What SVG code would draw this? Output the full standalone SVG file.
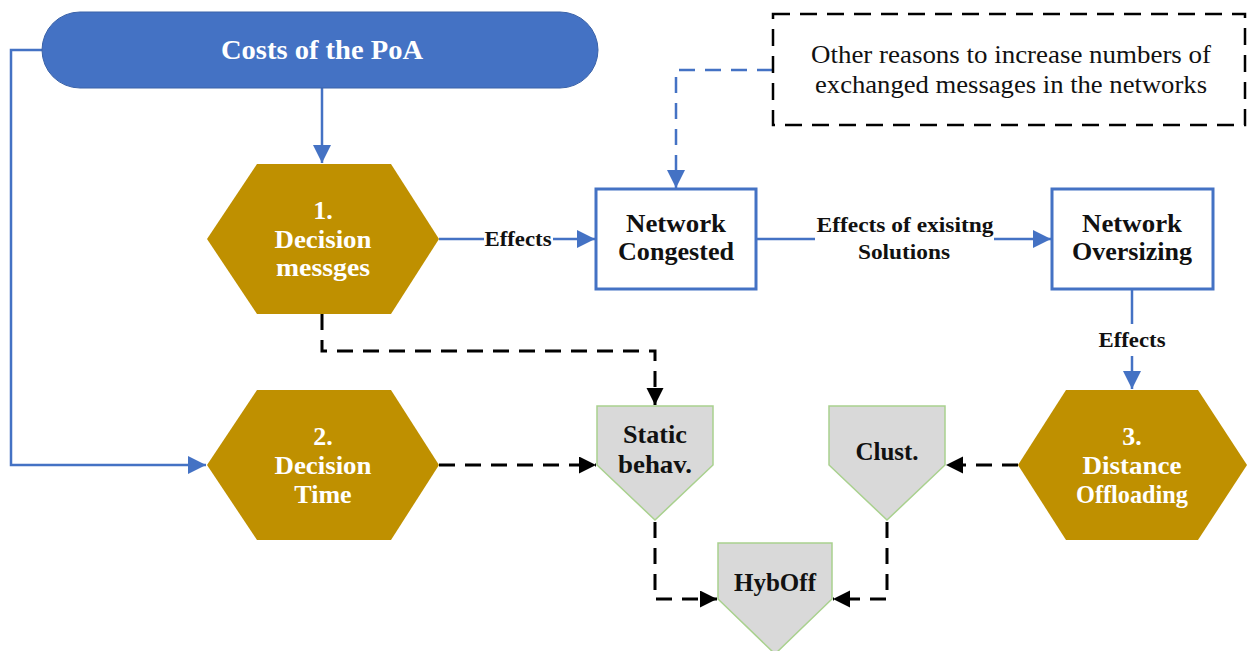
<svg xmlns="http://www.w3.org/2000/svg" width="1248" height="651" viewBox="0 0 1248 651">
  <style>
    .hex { fill: #BF9000; }
    .hexText { font-family: "Liberation Serif", serif; font-weight: bold; font-size: 26px; fill: #FFFFFF; text-anchor: middle; }
    .box { fill: #FFFFFF; stroke: #4472C4; stroke-width: 3; }
    .boxText { font-family: "Liberation Serif", serif; font-weight: bold; font-size: 25px; fill: #111111; text-anchor: middle; }
    .tag { fill: #D9D9D9; stroke: #A9D18E; stroke-width: 1.5; }
    .lbl { font-family: "Liberation Serif", serif; font-weight: bold; font-size: 21px; fill: #111111; text-anchor: middle; }
    .blue { fill: none; stroke: #4472C4; stroke-width: 2.5; }
    .blueDash { fill: none; stroke: #4472C4; stroke-width: 2.5; stroke-dasharray: 16 10; }
    .blackDash { fill: none; stroke: #000000; stroke-width: 3; stroke-dasharray: 16 10; }
  </style>
  <defs>
    <marker id="arrBlue" markerUnits="userSpaceOnUse" markerWidth="20" markerHeight="20" refX="18" refY="9" orient="auto">
      <path d="M0,0 L18,9 L0,18 Z" fill="#4472C4"/>
    </marker>
    <marker id="arrBlack" markerUnits="userSpaceOnUse" markerWidth="20" markerHeight="20" refX="17" refY="8.5" orient="auto">
      <path d="M0,0 L17,8.5 L0,17 Z" fill="#000000"/>
    </marker>
  </defs>
  <rect width="1248" height="651" fill="#FFFFFF"/>

  <!-- connectors -->
  <g id="connectors">
    <path class="blue" d="M42,50 H11 V465 H206" marker-end="url(#arrBlue)"/>
    <path class="blue" d="M322,88 V163" marker-end="url(#arrBlue)"/>
    <path class="blue" d="M439,239 H484"/>
    <path class="blue" d="M553,239 H595" marker-end="url(#arrBlue)"/>
    <path class="blue" d="M756,239 H815"/>
    <path class="blue" d="M994,239 H1051" marker-end="url(#arrBlue)"/>
    <path class="blue" d="M1132,290 V324"/>
    <path class="blue" d="M1132,356 V389" marker-end="url(#arrBlue)"/>
    <path class="blueDash" d="M773,70 H676 V188" marker-end="url(#arrBlue)"/>
    <path class="blackDash" d="M322,314 V351 H655 V405" marker-end="url(#arrBlack)"/>
    <path class="blackDash" d="M439,465 H596" marker-end="url(#arrBlack)"/>
    <path class="blackDash" d="M1018,465 H946" marker-end="url(#arrBlack)"/>
    <path class="blackDash" d="M655,522 V599 H717" marker-end="url(#arrBlack)"/>
    <path class="blackDash" d="M887,522 V599 H833" marker-end="url(#arrBlack)"/>
    <text class="lbl" x="518" y="246" textLength="67" lengthAdjust="spacingAndGlyphs">Effects</text>
    <text class="lbl" x="905" y="232" textLength="177" lengthAdjust="spacingAndGlyphs">Effects of exisitng</text>
    <text class="lbl" x="904" y="259" textLength="92" lengthAdjust="spacingAndGlyphs">Solutions</text>
    <text class="lbl" x="1132" y="347" textLength="67" lengthAdjust="spacingAndGlyphs">Effects</text>
  </g>

  <!-- start terminal -->
  <g id="costs">
    <rect x="42" y="12" width="556" height="76" rx="38" fill="#4472C4" stroke="#3A62A8" stroke-width="1"/>
    <text x="322" y="59" font-family="Liberation Serif, serif" font-weight="bold" font-size="27" fill="#FFFFFF" text-anchor="middle" textLength="202" lengthAdjust="spacingAndGlyphs">Costs of the PoA</text>
  </g>

  <g id="otherReasons">
    <rect x="773" y="14" width="472" height="111" fill="#FFFFFF" stroke="#000000" stroke-width="2.5" stroke-dasharray="17 10"/>
    <text x="1011" y="63" font-family="Liberation Serif, serif" font-size="25" fill="#111111" text-anchor="middle" textLength="400" lengthAdjust="spacingAndGlyphs">Other reasons to increase numbers of</text>
    <text x="1011" y="93" font-family="Liberation Serif, serif" font-size="25" fill="#111111" text-anchor="middle" textLength="392" lengthAdjust="spacingAndGlyphs">exchanged messages in the networks</text>
  </g>

  <g id="decisionMessages">
    <polygon class="hex" points="207,239 257,164 391,164 439,239 391,314 257,314"/>
    <text class="hexText" x="323" y="219">1.</text>
    <text class="hexText" x="323" y="248" textLength="97" lengthAdjust="spacingAndGlyphs">Decision</text>
    <text class="hexText" x="323" y="276" textLength="94" lengthAdjust="spacingAndGlyphs">messges</text>
  </g>

  <g id="decisionTime">
    <polygon class="hex" points="207,465 257,390 391,390 439,465 391,540 257,540"/>
    <text class="hexText" x="323" y="445">2.</text>
    <text class="hexText" x="323" y="474" textLength="97" lengthAdjust="spacingAndGlyphs">Decision</text>
    <text class="hexText" x="323" y="503">Time</text>
  </g>

  <g id="distanceOffloading">
    <polygon class="hex" points="1018,465 1066,390 1198,390 1247,465 1198,540 1066,540"/>
    <text class="hexText" x="1132" y="445">3.</text>
    <text class="hexText" x="1132" y="474" textLength="99" lengthAdjust="spacingAndGlyphs">Distance</text>
    <text class="hexText" x="1132" y="503" textLength="112" lengthAdjust="spacingAndGlyphs">Offloading</text>
  </g>

  <g id="networkCongested">
    <rect class="box" x="596" y="189" width="160" height="100"/>
    <text class="boxText" x="676" y="232" textLength="100" lengthAdjust="spacingAndGlyphs">Network</text>
    <text class="boxText" x="676" y="260" textLength="116" lengthAdjust="spacingAndGlyphs">Congested</text>
  </g>

  <g id="networkOversizing">
    <rect class="box" x="1052" y="189" width="161" height="100"/>
    <text class="boxText" x="1132" y="232" textLength="100" lengthAdjust="spacingAndGlyphs">Network</text>
    <text class="boxText" x="1132" y="260" textLength="120" lengthAdjust="spacingAndGlyphs">Oversizing</text>
  </g>

  <g id="staticBehav">
    <polygon class="tag" points="597,406 713,406 713,465 655,520 597,465"/>
    <text class="boxText" x="655" y="443" textLength="64" lengthAdjust="spacingAndGlyphs">Static</text>
    <text class="boxText" x="655" y="473" textLength="74" lengthAdjust="spacingAndGlyphs">behav.</text>
  </g>

  <g id="clust">
    <polygon class="tag" points="829,406 945,406 945,465 887,520 829,465"/>
    <text class="boxText" x="887" y="460">Clust.</text>
  </g>

  <g id="hybOff">
    <polygon class="tag" points="718,543 832,543 832,599 775,654 718,599"/>
    <text class="boxText" x="775" y="591">HybOff</text>
  </g>
</svg>
